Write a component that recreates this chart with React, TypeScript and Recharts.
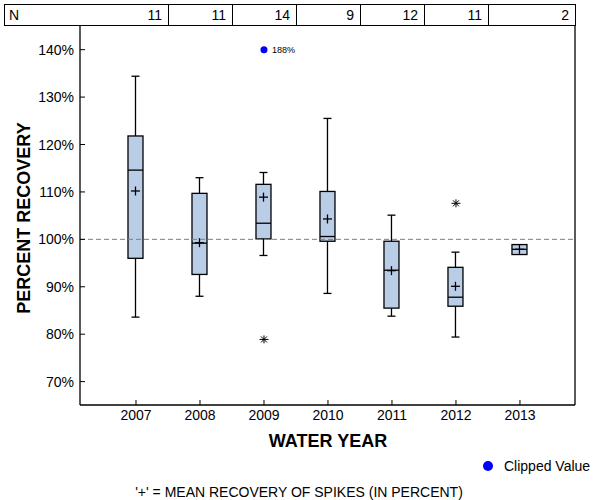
import React from 'react';
import {
  ComposedChart,
  Bar,
  Scatter,
  XAxis,
  YAxis,
  ReferenceLine,
} from 'recharts';

const years = [2007, 2008, 2009, 2010, 2011, 2012, 2013];
const counts = [11, 11, 14, 9, 12, 11, 2];
const whiskerLow = [83.6, 88.0, 96.6, 88.6, 83.8, 79.4, null];
const q1 = [96.0, 92.6, 100.1, 99.6, 85.5, 85.9, 96.8];
const median = [114.6, 99.2, 103.4, 100.6, 93.5, 87.8, 97.9];
const q3 = [121.8, 109.7, 111.6, 110.1, 99.6, 94.1, 98.9];
const whiskerHigh = [134.4, 113.0, 114.1, 125.5, 105.1, 97.3, null];
const means = [110.2, 99.3, 108.9, 104.3, 93.4, 90.1, 97.9];

const outlierYears = [2009, 2012];
const outlierValues = [78.9, 107.6];

const clippedYears = [2009];
const clippedActual = [188];
const clipLevel = 140;

const yTicks = [70, 80, 90, 100, 110, 120, 130, 140];

const X_MIN = 2006.125;
const X_MAX = 2013.86;
const Y_MIN = 65.07;
const Y_MAX = 145.2;

const PLOT_LEFT = 80;
const PLOT_RIGHT = 575;
const PLOT_BOTTOM = 405;

const FONT = "'Liberation Sans', Arial, sans-serif";

const boxData = years.map((year, i) => ({
  year,
  q1: q1[i],
  median: median[i],
  q3: q3[i],
  mean: means[i],
  wLow: whiskerLow[i],
  wHigh: whiskerHigh[i],
  lo: whiskerLow[i] ?? q1[i],
  hi: whiskerHigh[i] ?? q3[i],
}));

const outliers = outlierYears.map((year, i) => ({ year, value: outlierValues[i] }));
const clipped = clippedYears.map((year, i) => ({ year, value: clipLevel, actual: clippedActual[i] }));

const BoxShape = (props: any) => {
  const { x, y, width, height, payload } = props;
  const top = Math.min(y, y + height);
  const h = Math.abs(height);
  const k = h / (payload.hi - payload.lo);
  const py = (v: number) => top + (payload.hi - v) * k;
  const cx = x + width / 2;
  const cap = 4;
  return (
    <g stroke="#000" strokeWidth={1.3} fill="none">
      {payload.wHigh != null && (
        <>
          <line x1={cx} x2={cx} y1={py(payload.wHigh)} y2={py(payload.q3)} />
          <line x1={cx - cap} x2={cx + cap} y1={py(payload.wHigh)} y2={py(payload.wHigh)} />
        </>
      )}
      {payload.wLow != null && (
        <>
          <line x1={cx} x2={cx} y1={py(payload.q1)} y2={py(payload.wLow)} />
          <line x1={cx - cap} x2={cx + cap} y1={py(payload.wLow)} y2={py(payload.wLow)} />
        </>
      )}
      <rect
        x={x}
        y={py(payload.q3)}
        width={width}
        height={py(payload.q1) - py(payload.q3)}
        fill="#b9cde6"
      />
      <line x1={x} x2={x + width} y1={py(payload.median)} y2={py(payload.median)} />
      <line x1={cx - 4.5} x2={cx + 4.5} y1={py(payload.mean)} y2={py(payload.mean)} />
      <line x1={cx} x2={cx} y1={py(payload.mean) - 4.5} y2={py(payload.mean) + 4.5} />
    </g>
  );
};

const StarShape = (props: any) => {
  const { cx, cy } = props;
  return (
    <g stroke="#000" strokeWidth={1}>
      <line x1={cx - 4.5} x2={cx + 4.5} y1={cy} y2={cy} />
      <line x1={cx} x2={cx} y1={cy - 4} y2={cy + 4} />
      <line x1={cx - 3} x2={cx + 3} y1={cy - 3} y2={cy + 3} />
      <line x1={cx - 3} x2={cx + 3} y1={cy + 3} y2={cy - 3} />
    </g>
  );
};

const ClippedShape = (props: any) => {
  const { cx, cy, payload } = props;
  return (
    <g>
      <circle cx={cx} cy={cy} r={3.5} fill="#0000ff" />
      <text x={cx + 8} y={cy + 3} fontSize={9} fontFamily={FONT} fill="#000">
        {payload.actual}%
      </text>
    </g>
  );
};

const YTick = (props: any) => {
  const { x, y, payload } = props;
  return (
    <g>
      <line x1={PLOT_LEFT} x2={PLOT_LEFT + 5} y1={y} y2={y} stroke="#000" />
      <text x={x} y={y} dy={5} textAnchor="end" fontSize={14} fontFamily={FONT} fill="#000">
        {payload.value}%
      </text>
    </g>
  );
};

const XTick = (props: any) => {
  const { x, y, payload } = props;
  return (
    <g>
      <line x1={x} x2={x} y1={PLOT_BOTTOM} y2={PLOT_BOTTOM - 5} stroke="#000" />
      <text x={x} y={y} dy={11} textAnchor="middle" fontSize={14} fontFamily={FONT} fill="#000">
        {payload.value}
      </text>
    </g>
  );
};

const px = (v: number) => PLOT_LEFT + ((v - X_MIN) / (X_MAX - X_MIN)) * (PLOT_RIGHT - PLOT_LEFT);

function Header() {
  const rights = years.map((yr, i) => (i < years.length - 1 ? px(yr + 0.5) : PLOT_RIGHT));
  return (
    <div
      style={{
        position: 'absolute',
        left: 4,
        top: 4,
        width: PLOT_RIGHT - 4 + 1,
        height: 22,
        border: '1px solid #000',
        boxSizing: 'border-box',
        fontSize: 14,
        fontFamily: FONT,
        color: '#000',
        lineHeight: '20px',
      }}
    >
      <span style={{ position: 'absolute', left: 4, top: 0 }}>N</span>
      {rights.map((r, i) => (
        <React.Fragment key={years[i]}>
          {i < years.length - 1 && (
            <div
              style={{
                position: 'absolute',
                left: r - 4 - 1,
                top: 0,
                width: 1,
                height: 20,
                background: '#000',
              }}
            />
          )}
          <span
            style={{
              position: 'absolute',
              right: PLOT_RIGHT - r + 6,
              top: 0,
            }}
          >
            {counts[i]}
          </span>
        </React.Fragment>
      ))}
    </div>
  );
}

export default function App() {
  return (
    <div
      style={{
        position: 'absolute',
        left: 0,
        top: 0,
        width: 600,
        height: 500,
        background: '#fff',
        fontFamily: FONT,
        color: '#000',
      }}
    >
      <ComposedChart
        width={600}
        height={500}
        data={boxData}
        margin={{ top: 25, right: 25, bottom: 65, left: 0 }}
      >
        <XAxis
          dataKey="year"
          type="number"
          domain={[X_MIN, X_MAX]}
          ticks={years}
          height={30}
          tickSize={0}
          tickMargin={4}
          tick={<XTick />}
          axisLine={{ stroke: '#000', strokeWidth: 1.3 }}
          tickLine={false}
          allowDataOverflow
        />
        <YAxis
          type="number"
          domain={[Y_MIN, Y_MAX]}
          ticks={yTicks}
          width={80}
          tickSize={0}
          tickMargin={6}
          tick={<YTick />}
          axisLine={{ stroke: '#000', strokeWidth: 1.3 }}
          tickLine={false}
          allowDataOverflow
        />
        <ReferenceLine y={100} stroke="#808080" strokeDasharray="5 3" />
        <ReferenceLine x={X_MAX} stroke="#000" strokeWidth={1.3} />
        <Bar
          dataKey={(d: any) => [d.lo, d.hi]}
          barSize={15}
          shape={<BoxShape />}
          isAnimationActive={false}
        />
        <Scatter data={outliers} dataKey="value" shape={<StarShape />} isAnimationActive={false} />
        <Scatter data={clipped} dataKey="value" shape={<ClippedShape />} isAnimationActive={false} />
      </ComposedChart>

      <Header />

      <div
        style={{
          position: 'absolute',
          left: 24,
          top: 218,
          transform: 'translate(-50%, -50%) rotate(-90deg)',
          fontSize: 18,
          fontWeight: 'bold',
          whiteSpace: 'nowrap',
        }}
      >
        PERCENT RECOVERY
      </div>
      <div
        style={{
          position: 'absolute',
          left: 328,
          top: 441,
          transform: 'translate(-50%, -50%)',
          fontSize: 18,
          fontWeight: 'bold',
          whiteSpace: 'nowrap',
        }}
      >
        WATER YEAR
      </div>
      <div
        style={{
          position: 'absolute',
          left: 483,
          top: 461,
          width: 10,
          height: 10,
          borderRadius: '50%',
          background: '#0000ff',
        }}
      />
      <div style={{ position: 'absolute', left: 504, top: 458, fontSize: 14, whiteSpace: 'nowrap' }}>
        Clipped Value
      </div>
      <div
        style={{
          position: 'absolute',
          left: 299,
          top: 492,
          transform: 'translate(-50%, -50%)',
          fontSize: 14,
          whiteSpace: 'nowrap',
        }}
      >
        '+' = MEAN RECOVERY OF SPIKES (IN PERCENT)
      </div>
    </div>
  );
}
